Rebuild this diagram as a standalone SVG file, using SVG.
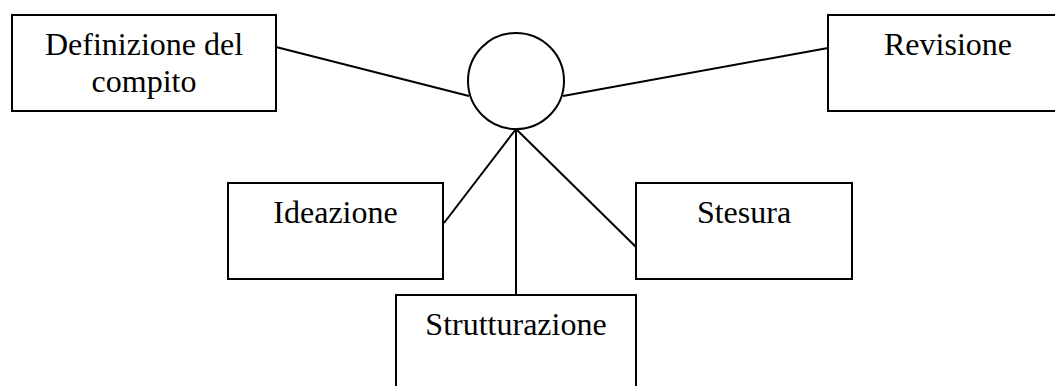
<svg xmlns="http://www.w3.org/2000/svg" width="1055" height="386" viewBox="0 0 1055 386">
<style>
.box{fill:#fff;stroke:#000;stroke-width:2}
.lbl{font-family:"Liberation Serif","Times New Roman",serif;font-size:32px;fill:#000;text-anchor:middle}
.conn line{stroke:#000;stroke-width:2}
</style>
<rect width="1055" height="386" fill="#fff"/>
<g class="conn">
<line x1="276" y1="47" x2="469" y2="96"/>
<line x1="563" y1="96" x2="828" y2="48"/>
<line x1="516" y1="129" x2="444" y2="223"/>
<line x1="516" y1="129" x2="636" y2="247"/>
<line x1="516" y1="129" x2="516" y2="295"/>
</g>
<g id="hub"><circle cx="516" cy="81" r="48" class="box"/></g>
<g id="definizione"><rect x="12" y="15" width="264" height="96" class="box"/><text class="lbl" x="144" y="55">Definizione del</text><text class="lbl" x="144" y="92">compito</text></g>
<g id="revisione"><rect x="828" y="15" width="240" height="96" class="box"/><text class="lbl" x="948" y="55">Revisione</text></g>
<g id="ideazione"><rect x="228" y="183" width="215" height="96" class="box"/><text class="lbl" x="335.5" y="223">Ideazione</text></g>
<g id="stesura"><rect x="636" y="183" width="216" height="96" class="box"/><text class="lbl" x="744" y="223">Stesura</text></g>
<g id="strutturazione"><rect x="396" y="295" width="240" height="100" class="box"/><text class="lbl" x="516" y="335">Strutturazione</text></g>
</svg>
